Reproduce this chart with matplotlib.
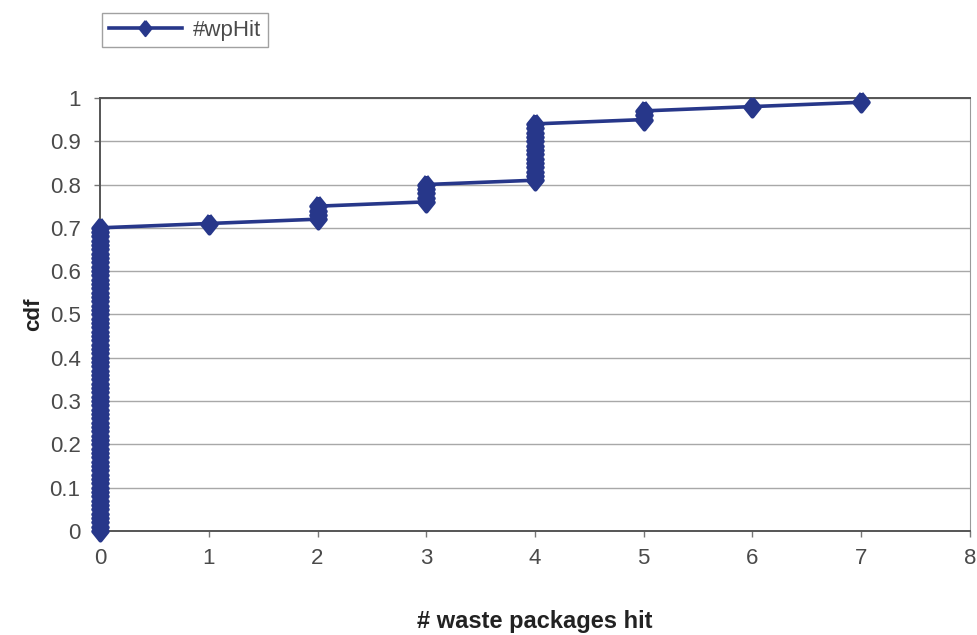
import matplotlib
matplotlib.use('Agg')
import matplotlib.pyplot as plt
import numpy as np

# number of waste packages hit, and how many realizations gave each value
n_hit  = [0, 1, 2, 3, 4, 5, 6, 7]
counts = [71, 1, 4, 5, 14, 3, 1, 1]

x_ticks = [0, 1, 2, 3, 4, 5, 6, 7, 8]
y_ticks = [0, 0.1, 0.2, 0.3, 0.4, 0.5, 0.6, 0.7, 0.8, 0.9, 1]

# empirical cdf: sorted samples against rank / N
samples = np.repeat(n_hit, counts)
cdf = np.arange(len(samples)) / len(samples)

plt.rcParams['font.family'] = ['Liberation Sans', 'DejaVu Sans']
navy = '#27378a'
diamond = [(0, 1), (0.8, 0), (0, -1), (-0.8, 0), (0, 1)]

fig = plt.figure(figsize=(9.77, 6.35), dpi=100)
ax = fig.add_axes([0.1024, 0.1638, 0.8904, 0.682])

ax.plot(samples, cdf, color=navy, lw=2.6, marker=diamond, ms=13,
        mfc=navy, mec=navy, mew=3, label='#wpHit', clip_on=False, zorder=3)

ax.set_xlim(0, 8)
ax.set_ylim(0, 1)
ax.set_xticks(x_ticks)
ax.set_yticks(y_ticks)
ax.set_yticklabels(['0', '0.1', '0.2', '0.3', '0.4', '0.5', '0.6', '0.7', '0.8', '0.9', '1'])
ax.tick_params(axis='both', labelsize=16, labelcolor='#4a4a4a', color='#777777',
               length=4, width=1)
ax.tick_params(axis='x', pad=8)
ax.tick_params(axis='y', pad=10)
ax.grid(axis='y', color='#a8a8a8', lw=1)
ax.set_axisbelow(True)
for side in ['left', 'top', 'bottom']:
    ax.spines[side].set_color('#555555')
    ax.spines[side].set_linewidth(1.4)
ax.spines['right'].set_color('#9a9a9a')

ax.set_xlabel('# waste packages hit', fontsize=17, fontweight='bold',
              color='#222222', labelpad=30)
ax.set_ylabel('cdf', fontsize=16, fontweight='bold', color='#222222', labelpad=4)

leg = fig.legend(loc='upper left', bbox_to_anchor=(0.093, 0.997), fontsize=16,
                 frameon=True, fancybox=False, edgecolor='#8a8a8a',
                 handlelength=3.3, borderpad=0.3, handletextpad=0.5)
leg.get_frame().set_linewidth(1)
for t in leg.get_texts():
    t.set_color('#4a4a4a')
for h in leg.legend_handles:
    h.set_markersize(11)
    h.set_markeredgewidth(1.5)

fig.savefig('out.png', dpi=100, facecolor='white')
